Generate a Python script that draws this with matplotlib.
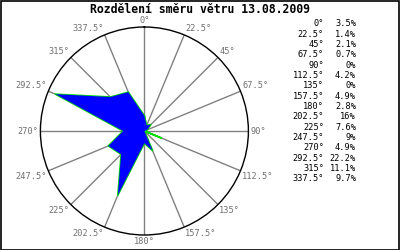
import numpy as np
import matplotlib
matplotlib.use("Agg")
import matplotlib.pyplot as plt
from matplotlib.patches import Rectangle

# smery (stupne) a cetnosti v %
directions = [0, 22.5, 45, 67.5, 90, 112.5, 135, 157.5, 180, 202.5, 225, 247.5, 270, 292.5, 315, 337.5]
percent = [3.5, 1.4, 2.1, 0.7, 0, 4.2, 0, 4.9, 2.8, 16, 7.6, 9, 4.9, 22.2, 11.1, 9.7]
title = "Rozdělení směru větru 13.08.2009"
r_max = 24

mono = "DejaVu Sans Mono"

fig = plt.figure(figsize=(4, 2.5), dpi=100)
fig.patch.set_facecolor("white")

ax = fig.add_axes([0.101, 0.06, 0.52, 0.832], projection="polar")
ax.set_theta_zero_location("N")
ax.set_theta_direction(-1)
ax.set_ylim(0, r_max)

theta = np.deg2rad(directions + [directions[0]])
vals = percent + [percent[0]]
ax.plot(theta, vals, color="#00dd00", lw=1.2, zorder=3)
ax.fill(theta, vals, color="blue", lw=0, zorder=4)

# paprsky
ax.set_thetagrids(directions, labels=[])
ax.xaxis.grid(True, color="#808080", lw=1)
ax.yaxis.grid(False)
ax.set_yticklabels([])
ax.spines["polar"].set_color("black")
ax.spines["polar"].set_linewidth(1)

# popisky smeru u konce paprsku
for d in directions:
    if d == 0:
        ha, va = "center", "bottom"
    elif d < 90:
        ha, va = "left", "bottom"
    elif d == 90:
        ha, va = "left", "center"
    elif d < 180:
        ha, va = "left", "top"
    elif d == 180:
        ha, va = "center", "top"
    elif d < 270:
        ha, va = "right", "top"
    elif d == 270:
        ha, va = "right", "center"
    else:
        ha, va = "right", "bottom"
    t = np.deg2rad(d)
    ax.annotate("{:g}°".format(d), xy=(t, r_max),
                xytext=(1.5 * np.sin(t), 1.5 * np.cos(t)), textcoords="offset points",
                ha=ha, va=va, family=mono, fontsize=6.2, color="#707070",
                annotation_clip=False)

fig.text(0.5, 0.963, title, ha="center", va="center", family=mono,
         fontweight="bold", fontsize=8.3)

# legenda vpravo
y0 = 1 - 24 / 250
dy = 10.33 / 250
for i, (d, p) in enumerate(zip(directions, percent)):
    y = y0 - i * dy
    fig.text(324 / 400, y, "{:g}°".format(d), ha="right", va="center",
             family=mono, fontsize=6.2)
    fig.text(356 / 400, y, "{:g}%".format(p), ha="right", va="center",
             family=mono, fontsize=6.2)

fig.patches.append(Rectangle((0.5 / 400, 0.5 / 250), 398.5 / 400, 248.5 / 250,
                             transform=fig.transFigure, fill=False,
                             edgecolor="black", lw=1.2))

fig.savefig("out.png", dpi=100)
